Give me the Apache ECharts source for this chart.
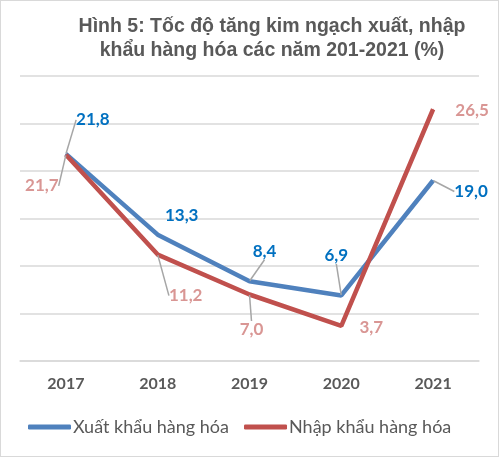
<!DOCTYPE html>
<html>
<head>
<meta charset="utf-8">
<script src="https://cdn.jsdelivr.net/npm/echarts@6/dist/echarts.min.js"></script>
<style>
  html, body { margin: 0; padding: 0; background: #fff; }
  #chart { width: 499px; height: 457px; box-sizing: border-box; border: 1px solid #d9d9d9; }
</style>
</head>
<body>
<div id="chart"></div>
<script>
// du lieu
var years = ['2017', '2018', '2019', '2020', '2021'];
var xuatKhau = [21.8, 13.3, 8.4, 6.9, 19.0];
var nhapKhau = [21.7, 11.2, 7.0, 3.7, 26.5];

// vi tri nhan (dx, dy) so voi diem
var xkOffset = [[27, -34], [24, -19], [15, -30], [-5, -40], [38, 11]];
var nkOffset = [[-24, 31], [28, 41], [2, 35], [30, 2], [39, 1]];
var xkLeader = [true, false, true, true, true];
var nkLeader = [true, true, true, false, false];

function fmt(p) {
  return p.value.toFixed(1).replace('.', ',');
}

function buildData(values, leader) {
  return values.map(function (v, i) {
    return { value: v, labelLine: { show: leader[i] } };
  });
}

var chart = echarts.init(document.getElementById('chart'));
chart.setOption({
  backgroundColor: '#fff',
  title: {
    text: 'Hình 5: Tốc độ tăng kim ngạch xuất, nhập\nkhẩu hàng hóa các năm 201-2021 (%)',
    left: 266,
    top: 9,
    textAlign: 'center',
    textStyle: {
      fontFamily: 'Liberation Sans',
      fontSize: 19.5,
      fontWeight: 'bold',
      color: '#595959',
      lineHeight: 24
    }
  },
  grid: { left: 19, right: 19, top: 75, bottom: 95 },
  legend: {
    top: 412,
    left: 22,
    itemWidth: 43,
    itemHeight: 5,
    itemGap: 15,
    icon: 'roundRect',
    textStyle: { fontFamily: 'Lato', fontSize: 18, color: '#595959', padding: [0, 0, 0, -3] },
    data: ['Xuất khẩu hàng hóa', 'Nhập khẩu hàng hóa']
  },
  xAxis: {
    type: 'category',
    data: years,
    axisLine: { lineStyle: { color: '#d9d9d9', width: 1.5 } },
    axisTick: { show: false },
    axisLabel: { fontFamily: 'Lato', fontSize: 16, fontWeight: 'bold', color: '#595959', margin: 15 }
  },
  yAxis: {
    type: 'value',
    min: 0,
    max: 30,
    interval: 5,
    axisLabel: { show: false },
    axisLine: { show: false },
    axisTick: { show: false },
    splitLine: { lineStyle: { color: '#d9d9d9', width: 1.5 } }
  },
  series: [
    {
      name: 'Xuất khẩu hàng hóa',
      type: 'line',
      data: buildData(xuatKhau, xkLeader),
      symbol: 'circle',
      symbolSize: 1,
      showSymbol: true,
      color: '#4f81bd',
      lineStyle: { width: 4.5, color: '#4f81bd' },
      label: {
        show: true,
        position: 'inside',
        formatter: fmt,
        fontFamily: 'Lato',
        fontSize: 17,
        fontWeight: 'bold',
        color: '#0070c0'
      },
      labelLine: { lineStyle: { color: '#a6a6a6', width: 1.5 } },
      labelLayout: function (p) {
        return { dx: xkOffset[p.dataIndex][0], dy: xkOffset[p.dataIndex][1] };
      }
    },
    {
      name: 'Nhập khẩu hàng hóa',
      type: 'line',
      data: buildData(nhapKhau, nkLeader),
      symbol: 'circle',
      symbolSize: 1,
      showSymbol: true,
      color: '#c0504d',
      lineStyle: { width: 4.5, color: '#c0504d' },
      label: {
        show: true,
        position: 'inside',
        formatter: fmt,
        fontFamily: 'Lato',
        fontSize: 17,
        fontWeight: 'bold',
        color: '#d99694'
      },
      labelLine: { lineStyle: { color: '#a6a6a6', width: 1.5 } },
      labelLayout: function (p) {
        return { dx: nkOffset[p.dataIndex][0], dy: nkOffset[p.dataIndex][1] };
      }
    }
  ]
});
</script>
</body>
</html>
